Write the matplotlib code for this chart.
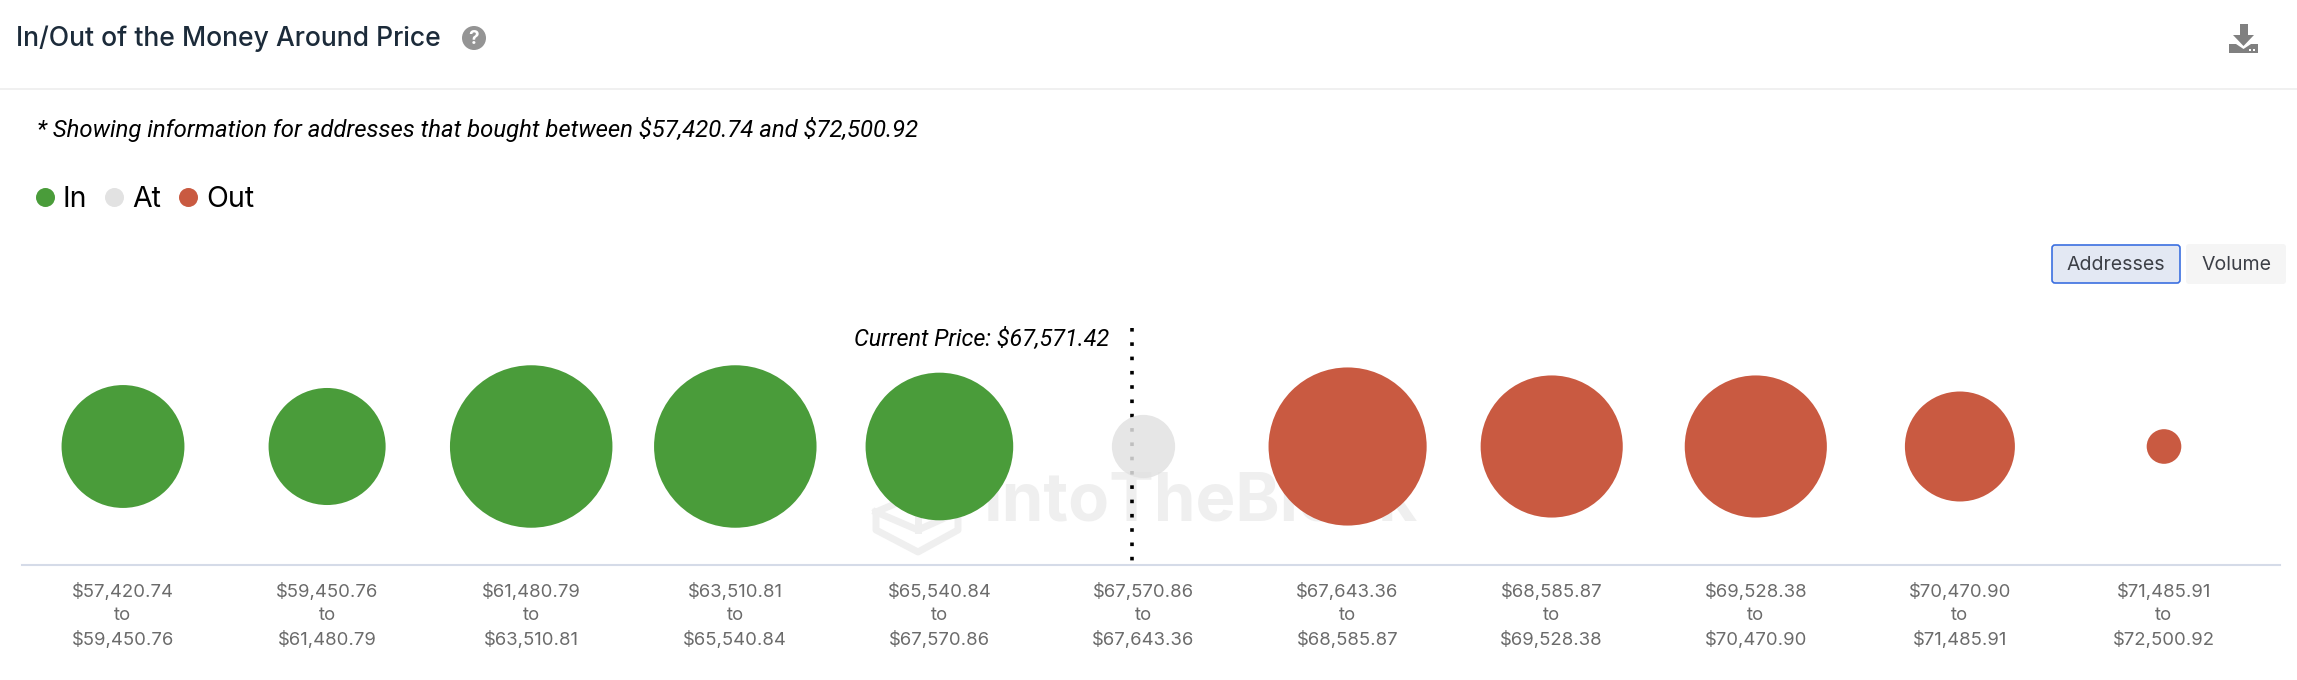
import numpy as np
import matplotlib
matplotlib.use("Agg")
import matplotlib.pyplot as plt
from matplotlib.lines import Line2D
from matplotlib.patches import Circle, FancyBboxPatch, Polygon, Rectangle

W, H = 2297, 680
DPI = 100

# ---- data ----
range_low = ["$57,420.74", "$59,450.76", "$61,480.79", "$63,510.81", "$65,540.84", "$67,570.86",
             "$67,643.36", "$68,585.87", "$69,528.38", "$70,470.90", "$71,485.91"]
range_high = ["$59,450.76", "$61,480.79", "$63,510.81", "$65,540.84", "$67,570.86", "$67,643.36",
              "$68,585.87", "$69,528.38", "$70,470.90", "$71,485.91", "$72,500.92"]
# relative number of addresses per bucket (bubble area)
addresses = [151, 137, 264, 264, 218, 40, 250, 202, 202, 121, 12]
status = ["In", "In", "In", "In", "In", "At", "Out", "Out", "Out", "Out", "Out"]
status_colors = {"In": "#4a9c3a", "At": "#e2e2e2", "Out": "#c95a41"}
current_price_label = r"Current Price: \$67,571.42"
subtitle = r"* Showing information for addresses that bought between \$57,420.74 and \$72,500.92"
title = "In/Out of the Money Around Price"

plt.rcParams["font.family"] = ["Inter", "DejaVu Sans"]
fig = plt.figure(figsize=(W / DPI, H / DPI), dpi=DPI, facecolor="white")

# page chrome in pixel coordinates
bg = fig.add_axes([0, 0, 1, 1], zorder=0)
bg.set_xlim(0, W)
bg.set_ylim(H, 0)
bg.axis("off")

fs = lambda px: px * 72 / DPI

bg.text(16, 39, title, fontsize=fs(26.5), color="#1c2b3a", va="center", ha="left", fontweight="medium")
bg.add_patch(Circle((474, 38), 12, fc="#949494", ec="none"))
bg.text(474, 38.5, "?", fontsize=fs(19), color="white", fontweight="bold", ha="center", va="center")
bg.plot([0, W], [88.5, 88.5], color="#eeeeee", lw=1.2)

# download icon
icon = "#808080"
bg.add_patch(Rectangle((2239.5, 24), 8, 12, fc=icon, ec="none"))
bg.add_patch(Polygon([(2233, 35), (2254, 35), (2243.5, 46)], fc=icon, ec="none"))
bg.add_patch(Polygon([(2229, 44), (2236, 44), (2243.5, 49), (2251, 44), (2258, 44), (2258, 53), (2229, 53)],
                     fc=icon, ec="none"))
bg.add_patch(Rectangle((2249, 49), 2, 2, fc="white", ec="none"))
bg.add_patch(Rectangle((2253, 49), 2, 2, fc="white", ec="none"))

ITALIC = "Roboto"
bg.text(37, 130, subtitle, fontsize=fs(23.85), family=ITALIC, style="italic", color="black", va="center", ha="left")

# buttons
bg.add_patch(FancyBboxPatch((2052, 245), 128, 38, boxstyle="round,pad=0,rounding_size=3",
                            fc="#e3e8f3", ec="#3b6fe0", lw=1.2))
bg.add_patch(FancyBboxPatch((2186, 244), 100, 40, boxstyle="round,pad=0,rounding_size=3",
                            fc="#f5f5f5", ec="none"))
bg.text(2116, 265, "Addresses", fontsize=fs(19.5), color="#3c3f46", ha="center", va="center")
bg.text(2236, 265, "Volume", fontsize=fs(19.5), color="#3c3f46", ha="center", va="center")

# watermark
wm = "#efefef"
bg.text(984, 503, "IntoTheBlock", fontsize=fs(67), fontweight="bold", color=wm, ha="left", va="center")
bg.plot([876, 918, 958, 958, 918, 876, 876], [512, 494, 512, 530, 552, 530, 512], color=wm, lw=5)
bg.plot([876, 918, 958], [512, 530, 512], color=wm, lw=5)
bg.plot([918, 918], [494, 530], color=wm, lw=5)

# chart axes
X0, X_STEP = 123, 204.1
CY = 446.5
left, right, top, base = 22, 2280, 300, 565
ax = fig.add_axes([left / W, (H - base) / H, (right - left) / W, (base - top) / H], zorder=1)
ax.patch.set_alpha(0)
ax.set_xlim((left - X0) / X_STEP, (right - X0) / X_STEP)
ax.set_ylim(-(base - CY), CY - top)

x = np.arange(len(addresses))
d_px = 10 * np.sqrt(np.array(addresses, dtype=float))
sizes = (d_px * 72 / DPI) ** 2
colors = [status_colors[s] for s in status]
alphas = [0.85 if s == "At" else 1 for s in status]
ax.scatter(x, np.zeros_like(x), s=sizes, c=colors, alpha=alphas, linewidths=0, zorder=3, clip_on=False)

ax.plot([4.945, 4.945], [CY - 328, -(base - CY)], color="black", lw=2.6,
        linestyle=(0, (1, 2.96)), zorder=2)
bg.text(1109, 339, current_price_label, fontsize=fs(23.4), family=ITALIC, style="italic",
        color="black", ha="right", va="center")

ax.set_xticks(x)
ax.set_xticklabels([fr"{a}" "\nto\n" fr"{b}" for a, b in
                    zip([s.replace("$", r"\$") for s in range_low], [s.replace("$", r"\$") for s in range_high])],
                   fontsize=fs(18.5), color="#6b6b6b", linespacing=1.47)
ax.tick_params(axis="x", length=0, pad=13)
ax.set_yticks([])
for s in ["top", "left", "right"]:
    ax.spines[s].set_visible(False)
ax.spines["bottom"].set_color("#d5dbe8")
ax.spines["bottom"].set_linewidth(1.5)

# legend
handles = [Line2D([], [], marker="o", linestyle="none", markersize=fs(19), markeredgewidth=0,
                  markerfacecolor=status_colors[k], label=k) for k in ["In", "At", "Out"]]
fig.legend(handles=handles, loc="center left", bbox_to_anchor=(31 / W, 1 - 199.5 / H), ncol=3, frameon=False,
           fontsize=fs(28.5), handletextpad=0.12, columnspacing=0.45, borderpad=0, borderaxespad=0, handlelength=1.0)

fig.savefig("out.png", dpi=DPI)
